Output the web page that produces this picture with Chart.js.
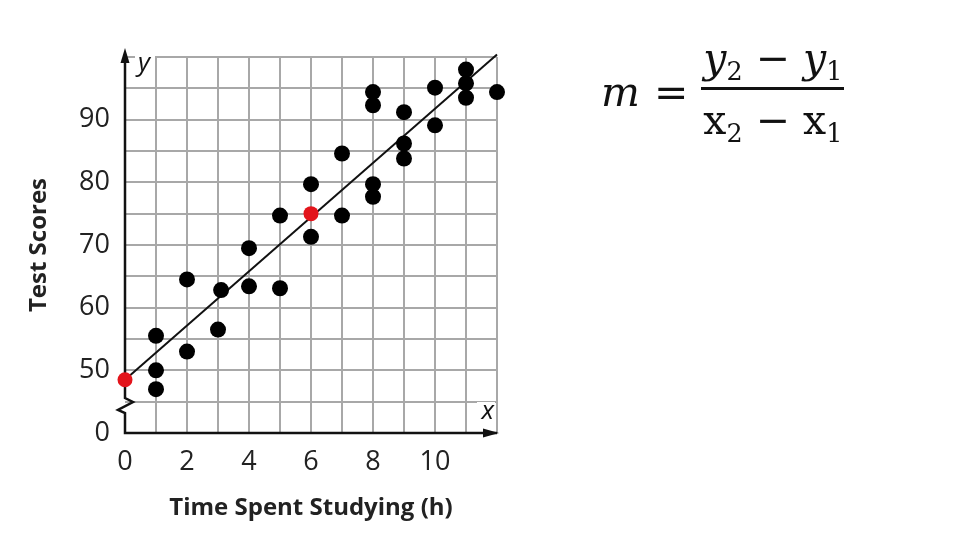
<!DOCTYPE html>
<html>
<head>
<meta charset="utf-8">
<script src="https://cdn.jsdelivr.net/npm/chart.js@4"></script>
<style>
  body { margin: 0; background: #fff; }
  #wrap { position: relative; width: 960px; height: 540px; }
  #formula {
    position: absolute; left: 601px; top: 37px;
    display: flex; align-items: center;
    font-family: 'DejaVu Serif', serif; font-size: 41px; color: #111;
  }
  #formula .var { font-style: italic; }
  #formula .eq { margin: 0 13px 0 14px; }
  #formula .frac { display: inline-flex; flex-direction: column; align-items: center; }
  #formula .num { border-bottom: 3px solid #111; padding: 0 2px 3px 2px; line-height: 1.05; }
  #formula .den { padding-top: 9px; line-height: 1.05; }
  #formula sub { font-size: 0.62em; font-style: normal; vertical-align: -0.3em; }
</style>
</head>
<body>
<div id="wrap">
  <canvas id="chart" width="960" height="540"></canvas>
  <div id="formula">
    <span class="var">m</span><span class="eq">=</span>
    <span class="frac">
      <span class="num"><i>y</i><sub>2</sub> − <i>y</i><sub>1</sub></span>
      <span class="den">x<sub>2</sub> − x<sub>1</sub></span>
    </span>
  </div>
</div>
<script>
// data
const studyHours = [1, 1, 1, 2, 2, 3, 3.1, 4, 4, 5, 5, 6, 6, 7, 7, 8, 8, 8, 8, 9, 9, 9, 10, 10, 11, 11, 11, 12];
const testScores = [55.5, 50, 47, 53, 64.5, 56.5, 62.8, 69.5, 63.4, 74.7, 63.1, 79.7, 71.3, 84.6, 74.7,
                    94.4, 92.3, 79.7, 77.7, 91.2, 86.2, 83.8, 95.1, 89.1, 98, 95.8, 93.5, 94.4];
const redHours = [0, 6];
const redScores = [48.5, 75];
const fitHours = [0, 12];
const fitScores = [48.5, 100.4];

const xTicks = [0, 1, 2, 3, 4, 5, 6, 7, 8, 9, 10, 11, 12];
const xTickLabels = ['0', '', '2', '', '4', '', '6', '', '8', '', '10', '', ''];
const yTicks = [40, 45, 50, 55, 60, 65, 70, 75, 80, 85, 90, 95, 100];
const yTickLabels = ['0', '', '50', '', '60', '', '70', '', '80', '', '90', '', ''];

const toPoints = (xs, ys) => xs.map((x, i) => ({ x: x, y: ys[i] }));

// axes with arrows, the axis break and the x / y letters
const axesPlugin = {
    id: 'axes',
    beforeDatasetsDraw(chart) {
        const ctx = chart.ctx;
        const a = chart.chartArea;
        const x0 = a.left, y0 = a.bottom;
        ctx.save();
        ctx.strokeStyle = '#111';
        ctx.fillStyle = '#111';
        ctx.lineWidth = 2.5;

        // y axis with zigzag break
        ctx.beginPath();
        ctx.moveTo(x0, a.top - 2);
        ctx.lineTo(x0, y0 - 35);
        ctx.lineTo(x0 + 8, y0 - 31);
        ctx.lineTo(x0 - 7, y0 - 23);
        ctx.lineTo(x0, y0 - 20);
        ctx.lineTo(x0, y0);
        ctx.lineTo(a.right, y0);
        ctx.stroke();

        // arrow heads
        ctx.beginPath();
        ctx.moveTo(x0, a.top - 9);
        ctx.lineTo(x0 - 4.5, a.top + 6);
        ctx.lineTo(x0 + 4.5, a.top + 6);
        ctx.closePath();
        ctx.fill();
        ctx.beginPath();
        ctx.moveTo(a.right + 2, y0);
        ctx.lineTo(a.right - 14, y0 - 4.5);
        ctx.lineTo(a.right - 14, y0 + 4.5);
        ctx.closePath();
        ctx.fill();

        // axis letters
        ctx.font = 'italic 26px "Open Sans"';
        ctx.textBaseline = 'middle';
        ctx.fillStyle = '#fff';
        ctx.fillRect(x0 + 10, a.top - 4, 20, 24);
        ctx.fillRect(a.right - 20, y0 - 31, 18, 23);
        ctx.fillStyle = '#111';
        ctx.textAlign = 'left';
        ctx.fillText('y', x0 + 13, a.top + 7);
        ctx.textAlign = 'right';
        ctx.fillText('x', a.right - 3, y0 - 21);
        ctx.restore();
    }
};

new Chart(document.getElementById('chart'), {
    type: 'scatter',
    data: {
        datasets: [
            {
                data: toPoints(redHours, redScores),
                backgroundColor: '#e3141b',
                borderWidth: 0,
                pointRadius: 7.5,
                clip: false,
                order: 1
            },
            {
                data: toPoints(studyHours, testScores),
                backgroundColor: '#000',
                borderWidth: 0,
                pointRadius: 8,
                clip: false,
                order: 2
            },
            {
                type: 'line',
                data: toPoints(fitHours, fitScores),
                borderColor: '#111',
                borderWidth: 2,
                pointRadius: 0,
                clip: 6,
                order: 3
            }
        ]
    },
    plugins: [axesPlugin],
    options: {
        responsive: false,
        animation: false,
        layout: { padding: { top: 57, right: 463, left: 0, bottom: 0 } },
        plugins: { legend: { display: false }, tooltip: { enabled: false } },
        scales: {
            x: {
                type: 'linear',
                min: 0,
                max: 12,
                afterBuildTicks: scale => { scale.ticks = xTicks.map(v => ({ value: v })); },
                afterFit: scale => { scale.height = 107; },
                grid: {
                    color: ctx => ctx.tick && ctx.tick.value === 0 ? 'rgba(0,0,0,0)' : '#a8a8a8',
                    lineWidth: 2,
                    drawTicks: false
                },
                border: { display: false },
                ticks: {
                    padding: 13,
                    color: '#222',
                    font: { family: 'Open Sans', size: 27 },
                    maxRotation: 0,
                    autoSkip: false,
                    callback: (v, i) => xTickLabels[i]
                },
                title: {
                    display: true,
                    text: 'Time Spent Studying (h)',
                    color: '#222',
                    font: { family: 'Open Sans', size: 24, weight: 'bold' },
                    padding: { top: 0, bottom: 17 }
                }
            },
            y: {
                type: 'linear',
                min: 40,
                max: 100,
                afterBuildTicks: scale => { scale.ticks = yTicks.map(v => ({ value: v })); },
                afterFit: scale => { scale.width = 125; },
                grid: {
                    color: ctx => ctx.tick && ctx.tick.value === 40 ? 'rgba(0,0,0,0)' : '#a8a8a8',
                    lineWidth: 2,
                    drawTicks: false
                },
                border: { display: false },
                ticks: {
                    padding: 15,
                    color: '#222',
                    font: { family: 'Open Sans', size: 27 },
                    autoSkip: false,
                    callback: (v, i) => yTickLabels[i]
                },
                title: {
                    display: true,
                    text: 'Test Scores',
                    color: '#222',
                    font: { family: 'Open Sans', size: 24, weight: 'bold' },
                    padding: { top: 25, bottom: 0 }
                }
            }
        }
    }
});
</script>
</body>
</html>
